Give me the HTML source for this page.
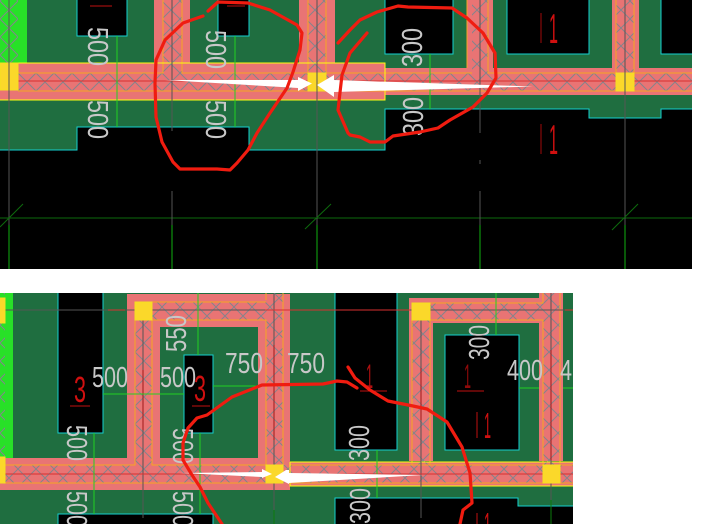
<!DOCTYPE html>
<html>
<head>
<meta charset="utf-8">
<style>
html,body{margin:0;padding:0;background:#fff;width:717px;height:524px;overflow:hidden}
svg{display:block}
text{font-family:"Liberation Sans",sans-serif}
.w{fill:#c8c8c8;font-size:29px}
.r{stroke:#f01c10;stroke-width:3.2;fill:none;stroke-linejoin:round;stroke-linecap:round}
.c{fill:#000;stroke:#14d0d0;stroke-width:1;shape-rendering:crispEdges}
.o{stroke:#f5a623;stroke-width:1;fill:none;shape-rendering:crispEdges}
.gr{stroke:#22d022;stroke-width:1;fill:none;shape-rendering:crispEdges}
.g{stroke:#555;stroke-width:1;fill:none;shape-rendering:crispEdges}
.y{fill:#fbd82a;stroke:#f5e020;stroke-width:1;shape-rendering:crispEdges}
.p{fill:#e97474}
.n{fill:#d01010;font-size:30px}
.e{shape-rendering:crispEdges}
</style>
</head>
<body>
<svg width="717" height="524" viewBox="0 0 717 524" xmlns="http://www.w3.org/2000/svg">
<defs>
<pattern id="h" width="18" height="18" patternUnits="userSpaceOnUse" patternTransform="translate(0,1)">
<path d="M0 0L18 18M18 0L0 18" stroke="#84848c" stroke-width="1" fill="none"/>
</pattern>
<clipPath id="c1"><rect x="0" y="0" width="692" height="269"/></clipPath>
<clipPath id="c2"><rect x="0" y="293" width="573" height="231"/></clipPath>
</defs>
<rect width="717" height="524" fill="#fff"/>

<!-- TOP PANEL -->
<g clip-path="url(#c1)">
<rect width="692" height="269" fill="#000"/>
<path d="M0 0H692V109H661V118H589V109H385V150H249V127H77V150H0Z" fill="#1f6e40"/>
<path class="e" d="M-2 150H77V127H249V150H385V109H589V118H661V109H693" fill="none" stroke="#14d0d0"/>
<rect class="c" x="77" y="-2" width="50" height="38"/>
<rect class="c" x="218" y="-2" width="31" height="38"/>
<rect class="c" x="385" y="-2" width="68" height="56"/>
<rect class="c" x="507" y="-2" width="82" height="56"/>
<rect class="c" x="661" y="-2" width="40" height="56"/>
<!-- walls -->
<rect x="0" y="0" width="27" height="63" fill="#28e028"/>
<rect x="0" y="0" width="18" height="63" fill="url(#h)"/>
<rect class="p" x="154" y="0" width="36" height="70"/>
<rect class="p" x="299" y="0" width="36" height="70"/>
<rect class="p" x="467" y="0" width="26" height="70"/>
<rect class="p" x="612" y="0" width="27" height="70"/>
<rect class="p" x="0" y="68" width="692" height="27"/>
<rect class="p" x="0" y="63" width="385" height="37"/>
<rect x="18" y="73" width="674" height="18" fill="url(#h)"/>
<rect x="163" y="0" width="19" height="73" fill="url(#h)"/>
<rect x="308" y="0" width="18" height="73" fill="url(#h)"/>
<rect x="472" y="0" width="16" height="73" fill="url(#h)"/>
<rect x="616" y="0" width="18" height="73" fill="url(#h)"/>
<path class="o" d="M18 73H163V0M182 0V73H308V0M326 0V73H472M488 0V73H616V0M634 0V73H692M18 91H692M467 0V68"/>
<path class="e" d="M0 81H692" stroke="#d83030" stroke-width="1"/>
<path class="e" d="M0 63H385V100H0" fill="none" stroke="#ffff10" stroke-width="1"/>
<rect class="y" x="0" y="63" width="18" height="27"/>
<rect class="y" x="308" y="73" width="18" height="18"/>
<rect class="y" x="616" y="73" width="18" height="18"/>
<!-- grid -->
<path class="e" d="M0 218H692" stroke="#0d6a0d" stroke-width="1"/>
<path d="M9 0V225M172 0V131M172 191V225M317 0V225M480 0V133M480 160V164M480 191V225M625 0V225" class="g"/>
<path class="e" d="M9 225V269M172 225V269M317 225V269M480 225V269M625 225V269" stroke="#10b010" stroke-width="1" fill="none"/>
<path d="M0 227L23 204M305 229L331 204M612 230L638 204" stroke="#0d6a0d" stroke-width="1" fill="none"/>
<path class="gr" d="M117 36V127M235 36V127M430 54V109"/>
<!-- red labels -->
<path class="e" d="M90 6H112M227 6H245" stroke="#c01010" stroke-width="1"/>
<path class="e" d="M541 13V43M541 124V154" stroke="#a00a0a" stroke-width="1"/>
<text class="n" x="549" y="43" textLength="9" lengthAdjust="spacingAndGlyphs" font-size="40" style="font-size:42px">1</text>
<text class="n" x="549" y="154" textLength="9" lengthAdjust="spacingAndGlyphs" style="font-size:42px">1</text>
<!-- white dims -->
<text class="w" transform="translate(88,27) rotate(90)" textLength="39" lengthAdjust="spacingAndGlyphs">500</text>
<text class="w" transform="translate(88,100) rotate(90)" textLength="39" lengthAdjust="spacingAndGlyphs">500</text>
<text class="w" transform="translate(206,30) rotate(90)" textLength="39" lengthAdjust="spacingAndGlyphs">500</text>
<text class="w" transform="translate(206,100) rotate(90)" textLength="39" lengthAdjust="spacingAndGlyphs">500</text>
<text class="w" transform="translate(422,67) rotate(-90)" textLength="39" lengthAdjust="spacingAndGlyphs">300</text>
<text class="w" transform="translate(423,136) rotate(-90)" textLength="39" lengthAdjust="spacingAndGlyphs">300</text>
<!-- white arrows -->
<path d="M165 80L298 80V77L312 83.500L298 91V88Z" fill="#fff"/>
<path d="M533 86.500L334 80V75L317 85L334 97V92Z" fill="#fff"/>
<!-- red sketches -->
<path class="r" d="M208 11L218 2L248 3L270 10L297 25L302 33L300 50L293 72L287 88L270 113L257 133L248 150L237 163L230 170L217 169L180 169L173 162L162 142L156 117L155 83L156 60L165 40L183 23L203 16"/>
<path class="r" d="M338 43L350 30L360 20L377 12L398 6L408 7L452 8L467 18L483 33L495 53L496 78L487 93L473 107L450 120L438 128L420 132L393 136L385 142L370 142L360 137L350 135L348 133L338 110L342 75L350 53L367 33"/>
</g>

<!-- BOTTOM PANEL -->
<g clip-path="url(#c2)">
<rect x="0" y="293" width="573" height="231" fill="#1f6e40"/>
<!-- black blocks -->
<rect class="c" x="58" y="290" width="45" height="143"/>
<rect class="c" x="184" y="355" width="29" height="78"/>
<rect class="c" x="335" y="290" width="62" height="160"/>
<rect class="c" x="445" y="335" width="74" height="115"/>
<rect class="c" x="58" y="514" width="155" height="20"/>
<path class="e" d="M335 530V498H518V506H580V530Z" fill="#000" stroke="#14d0d0"/>
<!-- left wall -->
<rect x="0" y="293" width="13" height="165" fill="#28e028"/>
<rect x="0" y="293" width="5" height="165" fill="url(#h)"/>
<!-- ring 1 -->
<path class="p" fill-rule="evenodd" d="M127 294H290V490H0V458H127ZM160 327V458H258V327Z"/>
<rect x="135" y="320" width="17" height="145" fill="url(#h)"/>
<rect x="152" y="302" width="114" height="18" fill="url(#h)"/>
<rect x="266" y="293" width="17" height="172" fill="url(#h)"/>
<rect x="0" y="465" width="266" height="18" fill="url(#h)"/>
<path class="o" d="M0 465H135V302H266M152 320V465H266V320H152M266 293V300M283 293V483H0"/>
<path class="g" d="M5 310H127M100 310H143"/>
<!-- ring 2 -->
<path class="p" fill-rule="evenodd" d="M409 298H539V293H563V461H409ZM433 323V461H539V323Z"/>
<rect class="p" x="290" y="462" width="283" height="24"/>
<rect x="412" y="320" width="18" height="145" fill="url(#h)"/>
<rect x="430" y="303" width="113" height="17" fill="url(#h)"/>
<rect x="543" y="293" width="17" height="172" fill="url(#h)"/>
<rect x="283" y="465" width="290" height="18" fill="url(#h)"/>
<path class="o" d="M412 465V303H543V293M430 465V320H543V465M560 293V465H573M290 465H543M290 483H573"/>
<path class="e" d="M290 462H573M573 486H290V462" fill="none" stroke="#ffff10" stroke-width="1"/>
<!-- grid lines -->
<path class="g" d="M143 310V518M274 293V510M421 310V518M551 293V524M0 310H300M315 310H573"/>
<path class="e" d="M108 310H125M265 310H310M290 310H312M410 310H300M565 310H573" stroke="#d83030" stroke-width="1" fill="none"/>
<path class="e" d="M5 474H573" stroke="#d83030" stroke-width="1" fill="none"/>
<path class="e" d="M143 370V430M274 345V440M421 368V420M551 350V460" stroke="#a01818" stroke-width="1" fill="none"/>
<path class="e" d="M274 510V524M551 500V524" stroke="#0d7a0d" stroke-width="1" fill="none"/>
<!-- green lines -->
<path class="gr" d="M198 293V355M103 394H184M213 386H262M94 433V514M200 433V514M377 450V498M496 293V335M519 388H539M563 388H573"/>
<!-- yellow squares -->
<rect class="y" x="-1" y="298" width="6" height="25"/>
<rect class="y" x="-1" y="457" width="6" height="26"/>
<rect class="y" x="135" y="302" width="17" height="18"/>
<rect class="y" x="266" y="465" width="17" height="18"/>
<rect class="y" x="412" y="303" width="18" height="17"/>
<rect class="y" x="543" y="465" width="17" height="18"/>
<!-- red labels -->
<text x="74" y="402" fill="#d01010" font-size="36" textLength="12" lengthAdjust="spacingAndGlyphs">3</text>
<text x="194" y="401" fill="#d01010" font-size="36" textLength="12" lengthAdjust="spacingAndGlyphs">3</text>
<path class="e" d="M70 406H90M192 406H210M360 391H387M457 391H484" stroke="#c01010" stroke-width="1"/>
<text x="366" y="388" fill="#b01010" font-size="34" textLength="7" lengthAdjust="spacingAndGlyphs">1</text>
<text x="464" y="388" fill="#900a0a" font-size="34" textLength="7" lengthAdjust="spacingAndGlyphs">1</text>
<path class="e" d="M477 412V438M477 513V524" stroke="#c01010" stroke-width="1"/>
<text x="484" y="438" fill="#d01010" font-size="36" textLength="7" lengthAdjust="spacingAndGlyphs">1</text>
<text x="484" y="538" fill="#d01010" font-size="36" textLength="7" lengthAdjust="spacingAndGlyphs">1</text>
<!-- white dims -->
<g class="w">
<text x="92" y="387" textLength="36" lengthAdjust="spacingAndGlyphs">500</text>
<text x="160" y="387" textLength="36" lengthAdjust="spacingAndGlyphs">500</text>
<text x="225" y="373" textLength="38" lengthAdjust="spacingAndGlyphs">750</text>
<text x="287" y="373" textLength="38" lengthAdjust="spacingAndGlyphs">750</text>
<text x="507" y="380" textLength="36" lengthAdjust="spacingAndGlyphs">400</text>
<text x="560" y="380" textLength="12" lengthAdjust="spacingAndGlyphs">4</text>
<text transform="translate(67,425) rotate(90)" textLength="36" lengthAdjust="spacingAndGlyphs">500</text>
<text transform="translate(67,491) rotate(90)" textLength="36" lengthAdjust="spacingAndGlyphs">500</text>
<text transform="translate(173,428) rotate(90)" textLength="36" lengthAdjust="spacingAndGlyphs">500</text>
<text transform="translate(173,491) rotate(90)" textLength="36" lengthAdjust="spacingAndGlyphs">500</text>
<text transform="translate(186,352) rotate(-90)" textLength="37" lengthAdjust="spacingAndGlyphs">550</text>
<text transform="translate(489,360) rotate(-90)" textLength="35" lengthAdjust="spacingAndGlyphs">300</text>
<text transform="translate(369,461) rotate(-90)" textLength="36" lengthAdjust="spacingAndGlyphs">300</text>
<text transform="translate(370,524) rotate(-90)" textLength="36" lengthAdjust="spacingAndGlyphs">300</text>
</g>
<!-- white arrows -->
<path d="M180 473L262 472V469L272 474L262 478V477Z" fill="#fff"/>
<path d="M423 475L289 473V470H286L275 477L289 484V483Z" fill="#fff"/>
<!-- red sketches -->
<path class="r" d="M357 388L347 382L337 381L323 384L262 385L232 397L207 415L197 418L188 428L183 443L183 460L192 475L200 487L208 503L222 524"/>
<path class="r" d="M348 367L355 378L370 390L388 401L413 406L427 409L447 422L462 447L470 473L472 503L463 510L460 524"/>
</g>
</svg>
</body>
</html>
